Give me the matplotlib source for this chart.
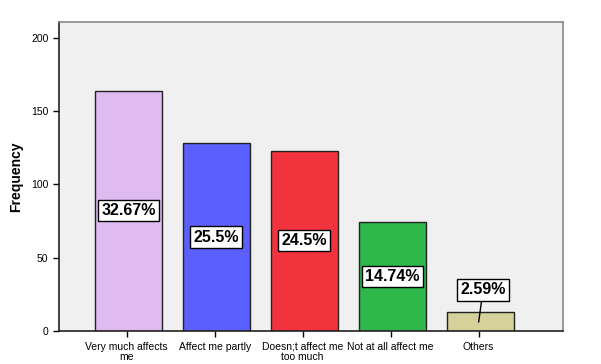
import matplotlib.pyplot as plt
import numpy as np

plt.rcParams['font.family'] = ['Liberation Sans', 'DejaVu Sans']

categories = ['Very much affects\nme', 'Affect me partly', 'Doesn;t affect me\ntoo much',
              'Not at all affect me', 'Others']
freq = [164, 128, 123, 74, 13]
pct_labels = ['32.67%', '25.5%', '24.5%', '14.74%', '2.59%']
colors = ['#dfbbf2', '#5b5ffe', '#f2333d', '#2fb84a', '#d4d19a']

fig = plt.figure(figsize=(6.01, 3.64), dpi=100)
ax = fig.add_axes([0.098, 0.091, 0.839, 0.849])
ax.set_facecolor('#f0f0f0')

x = np.arange(len(categories))
ax.bar(x + 0.02, freq, width=0.77, color=colors, edgecolor='#222222', linewidth=1.0, zorder=2)

box = dict(boxstyle='square,pad=0.2', fc='white', ec='black', lw=1.0)
for i, (v, t) in enumerate(zip(freq, pct_labels)):
    if v > 40:
        ax.text(i + 0.02, v / 2, t, ha='center', va='center', fontsize=11.5, fontweight='bold',
                bbox=box, zorder=3)
    else:
        ax.annotate(t, xy=(i, 6), xytext=(i + 0.05, 28), ha='center', va='center',
                    fontsize=11.5, fontweight='bold', bbox=box, zorder=3,
                    arrowprops=dict(arrowstyle='-', color='black', lw=1.0,
                                    shrinkA=0, shrinkB=0))

ax.set_xlim(-0.77, 4.96)
ax.set_ylim(0, 211)
ax.set_yticks([0, 50, 100, 150, 200])
ax.set_xticks(x)
ax.set_xticklabels(categories, fontsize=7.5, linespacing=1.0)
ax.tick_params(axis='y', labelsize=7.5, length=4, width=1, direction='out')
ax.tick_params(axis='x', length=4, width=1, direction='out', pad=4)
ax.set_ylabel('Frequency', fontsize=10, fontweight='bold', labelpad=6)

for s in ['left', 'bottom']:
    ax.spines[s].set_color('#222222')
    ax.spines[s].set_linewidth(1.2)
for s in ['top', 'right']:
    ax.spines[s].set_color('#888888')
    ax.spines[s].set_linewidth(1.2)

fig.savefig('out.png', dpi=100, facecolor='white')
